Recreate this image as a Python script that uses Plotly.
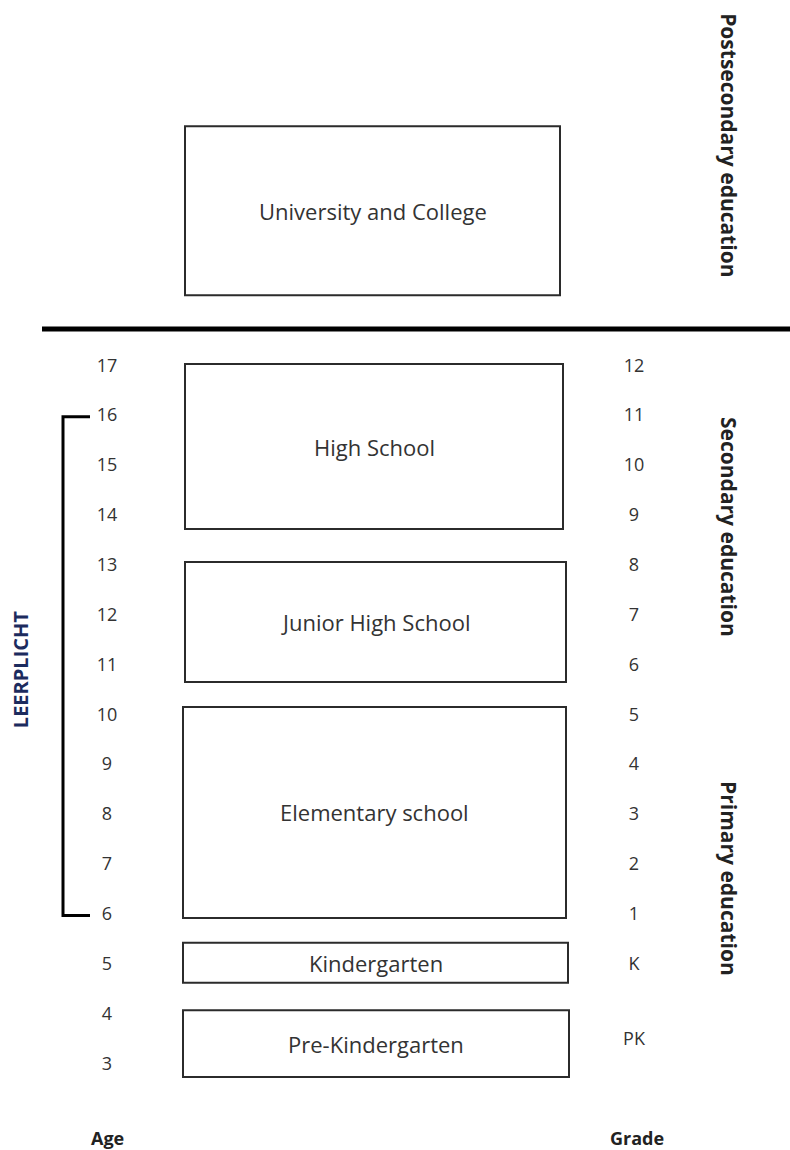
import plotly.graph_objects as go

# ---- data ----
AGES = [17, 16, 15, 14, 13, 12, 11, 10, 9, 8, 7, 6, 5, 4, 3]
GRADE_LABELS = ["12", "11", "10", "9", "8", "7", "6", "5", "4", "3", "2", "1", "K", "PK"]
GRADE_AGES = [17, 16, 15, 14, 13, 12, 11, 10, 9, 8, 7, 6, 5, 3.5]

STAGES = ["University and College", "High School", "Junior High School",
          "Elementary school", "Kindergarten", "Pre-Kindergarten"]
STAGE_LOW = [18.44, 13.75, 10.68, 5.95, 4.65, 2.76]    # lower edge (age units)
STAGE_HIGH = [21.83, 17.06, 13.09, 10.18, 5.45, 4.10]  # upper edge (age units)

SECTIONS = ["Postsecondary education", "Secondary education", "Primary education"]
SECTION_CENTER = [21.45, 13.79, 6.75]

SEPARATOR_AGE = 17.76
LEERPLICHT = (6, 16)

# ---- layout constants ----
W, H = 790, 1150
PX_PER_YEAR = (1065 - 367) / 14.0
Y_TOP = 17 + 367 / PX_PER_YEAR
Y_BOT = 3 - (H - 1065) / PX_PER_YEAR

BOX_LEFT = [185, 185, 185, 183, 183, 183]
BOX_RIGHT = [560, 563, 566, 566, 568, 569]
AGE_X = 107
GRADE_X = 634
SECTION_X = 729
FONT = "Open Sans"
TXT = "#333333"

fig = go.Figure()

# age labels
fig.add_trace(go.Scatter(x=[AGE_X] * len(AGES), y=AGES, mode="text",
                         text=[str(a) for a in AGES],
                         textfont=dict(family=FONT, size=18, color=TXT),
                         hoverinfo="skip", showlegend=False))
# grade labels
fig.add_trace(go.Scatter(x=[GRADE_X] * len(GRADE_LABELS), y=GRADE_AGES, mode="text",
                         text=GRADE_LABELS,
                         textfont=dict(family=FONT, size=18, color=TXT),
                         hoverinfo="skip", showlegend=False))

shapes = []
annotations = []
for name, lo, hi, x0, x1 in zip(STAGES, STAGE_LOW, STAGE_HIGH, BOX_LEFT, BOX_RIGHT):
    shapes.append(dict(type="rect", xref="x", yref="y", x0=x0, x1=x1, y0=lo, y1=hi,
                       line=dict(color="#2b2b2b", width=2), fillcolor="rgba(0,0,0,0)"))
    annotations.append(dict(x=(x0 + x1) / 2, y=(lo + hi) / 2, xref="x", yref="y",
                            text=name, showarrow=False,
                            font=dict(family=FONT, size=22, color=TXT)))

# thick separator
shapes.append(dict(type="line", xref="x", yref="y", x0=42, x1=W,
                   y0=SEPARATOR_AGE, y1=SEPARATOR_AGE,
                   line=dict(color="black", width=5)))

# LEERPLICHT bracket
b_lo, b_hi = LEERPLICHT
shapes.append(dict(type="path", xref="x", yref="y",
                   path=f"M 90 {b_hi} L 63 {b_hi} L 63 {b_lo} L 90 {b_lo}",
                   line=dict(color="black", width=3)))
annotations.append(dict(x=20, y=(b_lo + b_hi) / 2 - 0.08, xref="x", yref="y",
                        text="<b>LEERPLICHT</b>", textangle=-90, showarrow=False,
                        font=dict(family=FONT, size=20, color="#1c2b5e")))

for name, c in zip(SECTIONS, SECTION_CENTER):
    annotations.append(dict(x=SECTION_X, y=c, xref="x", yref="y",
                            text=f"<b>{name}</b>", textangle=90, showarrow=False,
                            font=dict(family=FONT, size=21, color="#222222")))

AXIS_LABEL_AGE = 1.54
annotations.append(dict(x=AGE_X, y=AXIS_LABEL_AGE, xref="x", yref="y", text="<b>Age</b>",
                        showarrow=False, font=dict(family=FONT, size=18, color="#222222")))
annotations.append(dict(x=GRADE_X + 3, y=AXIS_LABEL_AGE, xref="x", yref="y", text="<b>Grade</b>",
                        showarrow=False, font=dict(family=FONT, size=18, color="#222222")))

fig.update_layout(
    width=W, height=H, margin=dict(l=0, r=0, t=0, b=0),
    paper_bgcolor="white", plot_bgcolor="white",
    xaxis=dict(range=[0, W], visible=False, fixedrange=True),
    yaxis=dict(range=[Y_BOT, Y_TOP], visible=False, fixedrange=True),
    shapes=shapes, annotations=annotations, showlegend=False,
)

fig.write_html("out.html", config={"displayModeBar": False},
               post_script="document.body.style.margin='0';document.body.style.overflow='hidden';")
